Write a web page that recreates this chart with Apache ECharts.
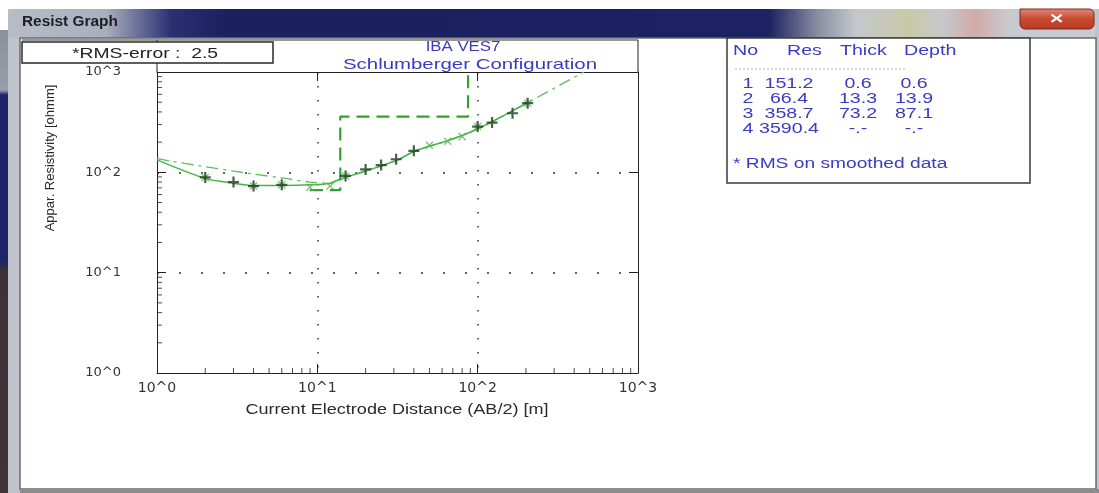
<!DOCTYPE html>
<html>
<head>
<meta charset="utf-8">
<title>Resist Graph</title>
<script src="https://cdn.jsdelivr.net/npm/echarts/dist/echarts.min.js"></script>
<style>
  html, body { margin: 0; padding: 0; background: #fff; }
  #chart { width: 1099px; height: 493px; }
</style>
</head>
<body>
<div id="chart"></div>
<script>
  // 观测数据 (+)
  var obsX = [2, 3, 4, 6, 15, 20, 25, 31, 40, 100, 123, 165, 205]
  var obsY = [89, 80, 73, 75, 92, 107, 118, 135, 164, 286, 313, 388, 489]
  // 平滑数据 (x)
  var smoX = [2, 4, 6, 9, 12, 15, 50, 65, 80, 100, 205]
  var smoY = [89, 73, 75, 71, 73, 92, 186, 204, 227, 286, 489]
  // 计算曲线
  var calcX = [1, 2, 3, 4, 6, 9, 12, 14, 20, 31, 41, 67, 102, 202]
  var calcY = [133, 87, 78, 74, 74, 75, 78, 86, 103, 131, 164, 210, 275, 489]
  // 点划线
  var dashX = [1, 1.2, 2, 3, 4, 6, 9, 12, 14, 20, 31, 41, 67, 102, 202, 460]
  var dashY = [138, 130, 114, 103, 96, 88, 80, 78, 86, 103, 131, 164, 210, 275, 489, 1000]
  // 分层模型
  var layerNo = [1, 2, 3, 4]
  var layerRes = [151.2, 66.4, 358.7, 3590.4]
  var layerThick = [0.6, 13.3, 73.2]
  var layerDepth = [0.6, 13.9, 87.1]
  var modelStartX = 9
  // 刻度
  var decadeLabels = ['10^0', '10^1', '10^2', '10^3']
  var minorTicks = [2, 3, 4, 5, 6, 7, 8, 9, 20, 30, 40, 50, 60, 70, 80, 90, 200, 300, 400, 500, 600, 700, 800, 900]
  var rmsError = 2.5

  function pairs (xs, ys) {
    var res = []
    for (var i = 0; i < xs.length; i++) {
      res.push([xs[i], ys[i]])
    }
    return res
  }

  // step line from the layer table (drawn from modelStartX on)
  function modelSteps () {
    var res = []
    for (var i = 0; i < layerDepth.length; i++) {
      if (layerDepth[i] < modelStartX) continue
      if (res.length === 0) res.push([modelStartX, layerRes[i]])
      res.push([layerDepth[i], layerRes[i]])
      res.push([layerDepth[i], layerRes[i + 1]])
    }
    res.push([10000, layerRes[layerRes.length - 1]])
    return res
  }

  function decadeLabel (v) {
    return decadeLabels[Math.round(Math.log10(v))]
  }

  function txt (str, x, y, o) {
    o = o || {}
    return {
      type: 'text',
      x: x,
      y: y,
      z: 100,
      scaleX: o.sx || 1.3,
      rotation: o.rot || 0,
      style: {
        text: str,
        fontFamily: 'Liberation Sans',
        fontSize: o.size || 14,
        fontWeight: o.weight || 'normal',
        fill: o.color || '#3a3ac4',
        align: o.align || 'left',
        verticalAlign: 'middle'
      }
    }
  }

  var plus = 'path://M4,0H6V4H10V6H6V10H4V6H0V4H4Z'
  var thinPlus = 'path://M4.3,0H5.7V4.3H10V5.7H5.7V10H4.3V5.7H0V4.3H4.3Z'

  var graphics = [
    // window chrome
    {type: 'rect', z: -10, shape: {x: 0, y: 30, width: 8, height: 463},
      style: {fill: new echarts.graphic.LinearGradient(0, 0, 0, 1, [
        {offset: 0, color: '#8c8f9c'}, {offset: 0.13, color: '#9a9cab'},
        {offset: 0.14, color: '#1e2468'}, {offset: 0.5, color: '#1e2468'},
        {offset: 0.52, color: '#3a3236'}, {offset: 1, color: '#3e3538'}])}},
    {type: 'rect', z: -10, shape: {x: 8, y: 9, width: 1091, height: 484}, style: {fill: '#bfc3cb'}},
    {type: 'rect', z: -9, shape: {x: 8, y: 9, width: 1087, height: 29, r: [6, 6, 0, 0]},
      style: {fill: new echarts.graphic.LinearGradient(0, 0, 1, 0, [
        {offset: 0, color: '#b7bcc7'}, {offset: 0.09, color: '#a9afbd'},
        {offset: 0.15, color: '#2a3172'}, {offset: 0.2, color: '#1b205e'},
        {offset: 0.7, color: '#1c2262'}, {offset: 0.745, color: '#8a8ea2'},
        {offset: 0.78, color: '#c4c7cc'}, {offset: 0.83, color: '#c9c9a8'},
        {offset: 0.86, color: '#c6c8cc'}, {offset: 0.89, color: '#d2aaa8'},
        {offset: 0.92, color: '#c8cacf'}, {offset: 1, color: '#c8cbd0'}])}},
    {type: 'rect', z: -8, shape: {x: 1020, y: 9, width: 74, height: 20, r: [0, 5, 5, 5]},
      style: {fill: new echarts.graphic.LinearGradient(0, 0, 0, 1, [
        {offset: 0, color: '#e08a78'}, {offset: 0.5, color: '#c84a30'}, {offset: 1, color: '#b83a22'}]),
        stroke: '#7a2a1c', lineWidth: 1}},
    txt('✕', 1057, 19, {color: '#ffffff', size: 13, weight: 'bold', align: 'center', sx: 1.4}),
    txt('Resist Graph', 22, 22, {color: '#1e1e22', size: 14, weight: 'bold', sx: 1.1}),
    // client area
    {type: 'rect', z: -7, shape: {x: 20, y: 38, width: 1076, height: 451}, style: {fill: '#ffffff', stroke: '#6a6a6a', lineWidth: 1.5}},
    {type: 'rect', z: -7, shape: {x: 20, y: 489, width: 1079, height: 4}, style: {fill: '#8c8c8c'}},
    {type: 'line', z: 5, shape: {x1: 157, y1: 40, x2: 157, y2: 72}, style: {stroke: '#222', lineWidth: 1}},
    {type: 'line', z: 5, shape: {x1: 638, y1: 40, x2: 638, y2: 72}, style: {stroke: '#222', lineWidth: 1}},
    {type: 'line', z: 5, shape: {x1: 22, y1: 40, x2: 638, y2: 40}, style: {stroke: '#333', lineWidth: 1}},
    // RMS box
    {type: 'rect', z: 90, shape: {x: 22, y: 42, width: 251, height: 21}, style: {fill: '#ffffff', stroke: '#2a2a2a', lineWidth: 1.5}},
    txt('*RMS-error :  ' + rmsError, 72, 54, {color: '#222', size: 14, sx: 1.38}),
    // title
    txt('IBA VES7', 463, 47, {size: 14, align: 'center', sx: 1.2}),
    txt('Schlumberger Configuration', 470, 65, {size: 15, align: 'center', sx: 1.36}),
    // x / y axis names
    txt('Current Electrode Distance (AB/2) [m]', 397, 410, {color: '#2a2a2a', size: 14, align: 'center', sx: 1.29}),
    txt('Appar. Resistivity [ohmm]', 50, 158, {color: '#2a2a2a', size: 13, align: 'center', sx: 1, rot: Math.PI / 2}),
    // table box
    {type: 'rect', z: 90, shape: {x: 727, y: 38, width: 303, height: 145}, style: {fill: '#ffffff', stroke: '#3a3a3a', lineWidth: 1.5}},
    txt('No', 733, 51, {sx: 1.4}),
    txt('Res', 787, 51, {sx: 1.4}),
    txt('Thick', 840, 51, {sx: 1.4}),
    txt('Depth', 904, 51, {sx: 1.4}),
    {type: 'line', z: 100, shape: {x1: 735, y1: 69, x2: 907, y2: 69}, style: {stroke: '#b4b4c4', lineWidth: 1, lineDash: [2, 2]}},
    txt('* RMS on smoothed data', 733, 164, {sx: 1.37})
  ]

  // table rows
  var colX = [748, 789, 858, 914]
  for (var i = 0; i < layerNo.length; i++) {
    var rowY = 84 + i * 15
    var th = i < layerThick.length ? layerThick[i].toFixed(1) : '-.-'
    var dp = i < layerDepth.length ? layerDepth[i].toFixed(1) : '-.-'
    graphics.push(txt(String(layerNo[i]), colX[0], rowY, {align: 'center', sx: 1.4}))
    graphics.push(txt(layerRes[i].toFixed(1), colX[1], rowY, {align: 'center', sx: 1.4}))
    graphics.push(txt(th, colX[2], rowY, {align: 'center', sx: 1.4}))
    graphics.push(txt(dp, colX[3], rowY, {align: 'center', sx: 1.4}))
  }

  var minorBottom = []
  var minorLeft = []
  for (var j = 0; j < minorTicks.length; j++) {
    minorBottom.push([minorTicks[j], 1])
    minorLeft.push([1, minorTicks[j]])
  }

  var axisCommon = {
    type: 'log',
    logBase: 10,
    min: 1,
    max: 1000,
    axisLine: {show: true, onZero: false, lineStyle: {color: '#222', width: 1}},
    axisTick: {show: true, inside: true, length: 9, lineStyle: {color: '#222', width: 1}}
  }

  var chart = echarts.init(document.getElementById('chart'))
  chart.setOption({
    backgroundColor: '#ffffff',
    animation: false,
    grid: {left: 157, top: 72, width: 481, height: 301, outerBoundsMode: 'none', containLabel: false},
    xAxis: [
      Object.assign({}, axisCommon, {
        position: 'bottom',
        axisLabel: {fontFamily: 'DejaVu Sans', fontSize: 14, color: '#333', margin: 8, formatter: decadeLabel},
        splitLine: {show: true, showMinLine: false, showMaxLine: false, lineStyle: {color: '#333', width: 1.5, type: [1.5, 12.5]}}
      }),
      Object.assign({}, axisCommon, {
        position: 'top',
        axisLabel: {show: false},
        splitLine: {show: false}
      })
    ],
    yAxis: [
      Object.assign({}, axisCommon, {
        position: 'left',
        axisLabel: {fontFamily: 'DejaVu Sans', fontSize: 13, color: '#333', margin: 36, formatter: decadeLabel},
        splitLine: {show: true, showMinLine: false, showMaxLine: false, lineStyle: {color: '#333', width: 1.5, type: [2, 20]}}
      }),
      Object.assign({}, axisCommon, {
        position: 'right',
        axisLabel: {show: false},
        splitLine: {show: false}
      })
    ],
    graphic: graphics,
    series: [
      {
        name: 'minorBottom', type: 'scatter', silent: true, data: minorBottom,
        symbol: 'rect', symbolSize: [1, 5], symbolOffset: [0, -2.5],
        itemStyle: {color: '#222'}, z: 3
      },
      {
        name: 'minorLeft', type: 'scatter', silent: true, data: minorLeft,
        symbol: 'rect', symbolSize: [5, 1], symbolOffset: [2.5, 0],
        itemStyle: {color: '#222'}, z: 3
      },
      {
        name: 'dashdot', type: 'line', data: pairs(dashX, dashY), showSymbol: false, smooth: 0.3,
        lineStyle: {color: '#5cbf5c', width: 1.3, type: [12, 5, 3, 5]}, z: 4
      },
      {
        name: 'calc', type: 'line', data: pairs(calcX, calcY), showSymbol: false, smooth: 0.3,
        lineStyle: {color: '#46b446', width: 1.5}, z: 5
      },
      {
        name: 'model', type: 'line', data: modelSteps(), showSymbol: false,
        lineStyle: {color: '#2ea62e', width: 2.2, type: [13, 7]}, z: 6
      },
      {
        name: 'smoothed', type: 'scatter', data: pairs(smoX, smoY),
        symbol: thinPlus, symbolSize: 10, symbolRotate: 45,
        itemStyle: {color: '#5cb85c'}, z: 7
      },
      {
        name: 'observed', type: 'scatter', data: pairs(obsX, obsY),
        symbol: plus, symbolSize: 11,
        itemStyle: {color: '#1d3a1d'}, z: 8
      }
    ]
  })
</script>
</body>
</html>
